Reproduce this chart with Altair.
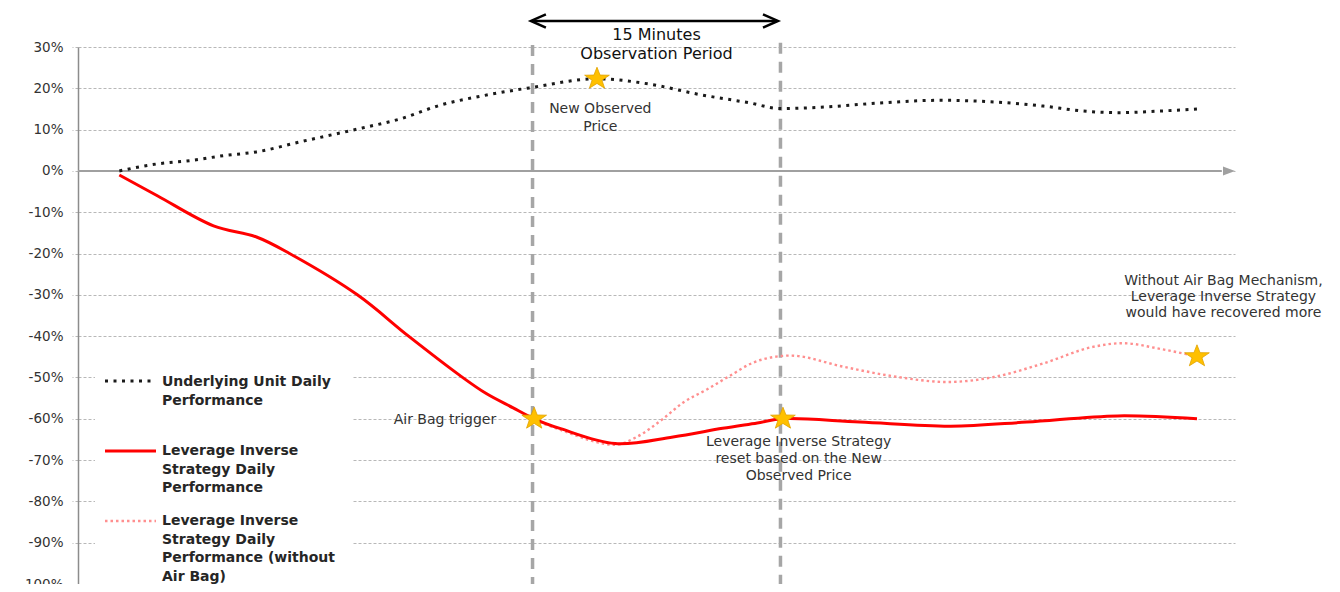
import math
import altair as alt
import pandas as pd

# ---------------- data (x = minutes on the chart window, y = % performance) ----------------
under_t = [2.5, 4.8, 6.8, 8.8, 10.8, 13.4, 17.2, 19.5, 21.9, 24.5, 27.3, 31.4, 34.6, 37.6,
           40.6, 42.5, 45.3, 48.3, 52.2, 55.4, 58.4, 60.8, 63.0, 65.5, 67.7]
under_v = [0.0, 1.7, 2.5, 3.7, 4.6, 7.0, 10.4, 12.6, 15.9, 18.2, 20.1, 22.3, 21.0, 18.5,
           16.5, 15.1, 15.5, 16.4, 17.1, 16.7, 15.7, 14.5, 14.1, 14.5, 15.0]

lev_t = [2.5, 4.8, 8.2, 10.8, 12.8, 16.9, 20.0, 23.1, 24.7, 26.3, 27.6, 29.2, 32.5, 36.0,
         39.0, 41.1, 42.65, 47.3, 52.8, 57.4, 62.9, 67.7]
lev_v = [-1.0, -6.0, -13.3, -16.0, -20.0, -30.0, -40.0, -49.5, -53.9, -57.3, -60.0, -62.4,
         -66.0, -64.4, -62.3, -61.0, -60.0, -60.8, -61.8, -60.8, -59.3, -60.0]

noab_t = [27.6, 29.2, 32.5, 33.8, 35.4, 36.6, 38.05, 39.4, 40.8, 42.0, 43.1, 46.3, 49.3,
          52.6, 55.4, 58.4, 61.4, 63.2, 65.5, 67.7]
noab_v = [-60.3, -62.7, -66.3, -64.4, -60.0, -56.1, -52.9, -49.7, -46.5, -45.1, -44.7, -47.4,
          -49.7, -51.1, -49.9, -46.6, -42.6, -41.7, -43.1, -44.9]

star_t = [31.4, 27.6, 42.65, 67.7]
star_v = [22.3, -60.0, -60.0, -44.9]

obs_t = [27.5, 42.5]          # 15 minutes observation period
arrow_t = [27.4, 42.35]
arrow_v = 36.3

x_domain = [0, 70]
y_domain = [-100, 30]
y_ticks = list(range(-100, 31, 10))

legend_labels = [
    ["Underlying Unit Daily", "Performance"],
    ["Leverage Inverse", "Strategy Daily", "Performance"],
    ["Leverage Inverse", "Strategy Daily", "Performance (without", "Air Bag)"],
]

title_lines = ["15 Minutes", "Observation Period"]
ann_new_price = ["New Observed", "Price"]
ann_airbag = ["Air Bag trigger"]
ann_reset = ["Leverage Inverse Strategy", "reset based on the New", "Observed Price"]
ann_without = ["Without Air Bag Mechanism,", "Leverage Inverse Strategy", "would have recovered more"]

# ---------------- helpers ----------------
FONT = "DejaVu Sans"

y_axis = alt.Axis(values=y_ticks, labelExpr="datum.value + '%'", title=None,
                  grid=True, gridColor="#b8b8b8", gridDash=[3, 2], gridWidth=1,
                  domainColor="#8c8c8c", domainWidth=1.5,
                  ticks=True, tickColor="#b8b8b8", tickSize=6, tickDash=[3, 2],
                  labelFont=FONT, labelFontSize=13.5, labelColor="#333333", labelPadding=9)


def X(field="t"):
    return alt.X(f"{field}:Q", scale=alt.Scale(domain=x_domain, nice=False, zero=False), axis=None)


def Y(field="v"):
    return alt.Y(f"{field}:Q", scale=alt.Scale(domain=y_domain, nice=False, zero=False), axis=y_axis)


def df(t, v):
    return pd.DataFrame({"t": t, "v": v})


one = pd.DataFrame({"a": [0]})

# star shape (slightly wide, like the source)
pts = []
for k in range(10):
    ang = math.radians(-90 + 36 * k)
    r = 1.0 if k % 2 == 0 else 0.4
    pts.append((1.12 * r * math.cos(ang), r * math.sin(ang)))
star_path = "M" + "L".join(f"{x:.3f},{y:.3f}" for x, y in pts) + "Z"

# ---------------- layers ----------------
base_grid = alt.Chart(df([0], [0])).mark_point(opacity=0).encode(x=X(), y=Y())

zero_line = alt.Chart(pd.DataFrame({"t": [0], "t2": [69.2], "v": [0]})).mark_rule(
    color="#a0a0a0", strokeWidth=2).encode(x=X(), x2="t2:Q", y=Y())
zero_head = alt.Chart(df([x_domain[1]], [0])).mark_point(
    shape="M-2,-0.75L0,0L-2,0.75Z", size=144, filled=True, color="#a0a0a0",
    opacity=1, strokeWidth=0).encode(x=X(), y=Y())

vlines = alt.Chart(pd.DataFrame({"t": obs_t, "v": [30.5, 31.0], "v2": [-101, -101]})).mark_rule(
    color="#a6a6a6", strokeWidth=3.5, strokeDash=[11, 8]).encode(x=X(), y=Y(), y2="v2:Q")

legend_bg = alt.Chart(one).mark_rect(fill="white").encode(
    x=alt.value(17), x2=alt.value(275), y=alt.value(315), y2=alt.value(545))

under_line = alt.Chart(df(under_t, under_v)).mark_line(
    color="#1a1a1a", strokeWidth=3, strokeDash=[3, 5.5], interpolate="monotone").encode(x=X(), y=Y())
noab_line = alt.Chart(df(noab_t, noab_v)).mark_line(
    color="#ff8f8f", strokeWidth=2.4, strokeDash=[2.5, 3], interpolate="monotone").encode(x=X(), y=Y())
lev_line = alt.Chart(df(lev_t, lev_v)).mark_line(
    color="#ff0000", strokeWidth=3, interpolate="catmull-rom").encode(x=X(), y=Y())

stars = alt.Chart(df(star_t, star_v)).mark_point(
    shape=star_path, size=538, filled=True, fill="#FFC000", stroke="#E0A200",
    strokeWidth=0.8, opacity=1).encode(x=X(), y=Y())

arrow_line = alt.Chart(pd.DataFrame({"t": [arrow_t[0] + 0.1], "t2": [arrow_t[1] - 0.1], "v": [arrow_v]})).mark_rule(
    color="black", strokeWidth=2.5).encode(x=X(), x2="t2:Q", y=Y())
arrow_l = alt.Chart(df([arrow_t[0]], [arrow_v])).mark_point(
    shape="M2.5,-1.1L0,0L2.5,1.1", size=144, filled=False, color="black",
    strokeWidth=2.5, opacity=1).encode(x=X(), y=Y())
arrow_r = alt.Chart(df([arrow_t[1]], [arrow_v])).mark_point(
    shape="M-2.5,-1.1L0,0L-2.5,1.1", size=144, filled=False, color="black",
    strokeWidth=2.5, opacity=1).encode(x=X(), y=Y())


def note(lines, t, v, size=14, color="#333333", lh=17, weight="normal"):
    # y is the position of the first line
    return alt.Chart(df([t], [v])).mark_text(
        text=lines, align="center", baseline="middle", font=FONT, fontSize=size,
        fontWeight=weight, color=color, lineHeight=lh).encode(x=X(), y=Y())


title_txt = note(title_lines, 35.0, 32.8, size=16, color="#111111", lh=19)
t_new = note(ann_new_price, 31.6, 15.0, lh=18)
t_air = note(ann_airbag, 22.2, -60.4)
t_reset = note(ann_reset, 43.6, -65.6, lh=17)
t_without = note(ann_without, 69.3, -26.6, lh=16.3)

# legend (hand-built, matching the source)
leg_styles = [
    dict(color="#1a1a1a", strokeWidth=3, strokeDash=[3, 5.5]),
    dict(color="#ff0000", strokeWidth=3),
    dict(color="#ff8f8f", strokeWidth=2.4, strokeDash=[2.5, 3]),
]
leg_sample_y = [334, 404, 474]
leg_text_y = [335, 404, 474]
leg_layers = []
for lab, st, sy, ty in zip(legend_labels, leg_styles, leg_sample_y, leg_text_y):
    leg_layers.append(alt.Chart(one).mark_rule(**st).encode(
        x=alt.value(27), x2=alt.value(78), y=alt.value(sy)))
    leg_layers.append(alt.Chart(one).mark_text(
        text=lab, align="left", baseline="middle", font=FONT, fontSize=14,
        fontWeight="bold", color="#262626", lineHeight=18.7).encode(
        x=alt.value(84), y=alt.value(ty)))

chart = alt.layer(
    base_grid, legend_bg, vlines, zero_line, zero_head,
    under_line, noab_line, lev_line, stars,
    arrow_line, arrow_l, arrow_r,
    title_txt, t_new, t_air, t_reset, t_without,
    *leg_layers,
).properties(
    width=1157, height=537,
    padding={"left": 70, "top": 39, "right": 97, "bottom": 0},
    autosize=alt.AutoSizeParams(type="none"),
    background="white",
).configure_view(stroke=None)

chart.save("out.html", embed_options={"renderer": "svg", "actions": False})
